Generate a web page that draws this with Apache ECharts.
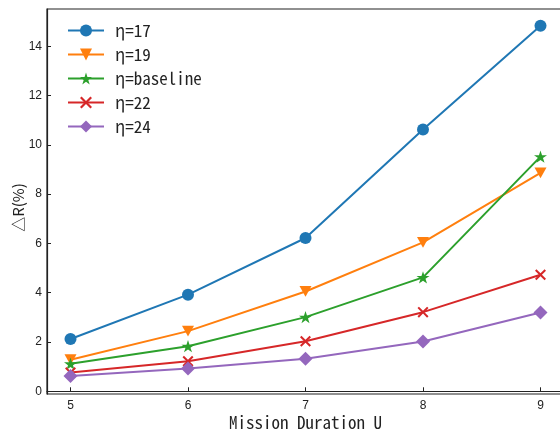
<!DOCTYPE html>
<html>
<head>
<meta charset="utf-8">
<script src="https://cdn.jsdelivr.net/npm/echarts@6/dist/echarts.min.js"></script>
<style>
	html, body { margin: 0; padding: 0; background: #fff; }
	#chart { width: 560px; height: 434px; }
</style>
</head>
<body>
<div id="chart"></div>
<script>
	// mission duration U on x
	const durations = [5, 6, 7, 8, 9]
	const yTicks = [0, 2, 4, 6, 8, 10, 12, 14]

	// ΔR (%) per η setting
	const eta17 = [2.12, 3.92, 6.22, 10.62, 14.83]
	const eta19 = [1.28, 2.44, 4.05, 6.04, 8.86]
	const etaBase = [1.12, 1.83, 3.01, 4.62, 9.52]
	const eta22 = [0.76, 1.22, 2.03, 3.21, 4.73]
	const eta24 = [0.62, 0.92, 1.32, 2.02, 3.2]

	const monoFont = '"Noto Sans Mono CJK SC", "DejaVu Sans Mono", monospace'

	const starPath = 'path://M50,0L61.23,34.55L97.55,34.55L68.17,55.9L79.39,90.45L50,69.1L20.61,90.45L31.83,55.9L2.45,34.55L38.77,34.55Z'
	const crossPath = 'path://M1.3,0L5,3.7L8.7,0L10,1.3L6.3,5L10,8.7L8.7,10L5,6.3L1.3,10L0,8.7L3.7,5L0,1.3Z'
	const triDownPath = 'path://M0,0L10,0L5,9Z'

	function pairs(vals) {
		return durations.map((d, i) => [d, vals[i]])
	}

	function makeSeries(name, vals, color, symbol, size) {
		return {
			name: name,
			type: 'line',
			data: pairs(vals),
			symbol: symbol,
			symbolSize: size,
			symbolKeepAspect: true,
			showAllSymbol: true,
			lineStyle: { color: color, width: 2 },
			itemStyle: { color: color },
			emphasis: { disabled: true },
			animation: false
		}
	}

	const chart = echarts.init(document.getElementById('chart'))
	chart.setOption({
		backgroundColor: '#fff',
		grid: {
			left: 47,
			top: 9,
			right: -4,
			bottom: 40,
			outerBoundsMode: 'none',
			containLabel: false,
			show: true,
			borderColor: '#222',
			borderWidth: 1.2
		},
		legend: {
			orient: 'vertical',
			left: 62,
			top: 17,
			itemWidth: 36,
			itemHeight: 15,
			itemGap: 7,
			textStyle: {
				fontFamily: monoFont,
				fontSize: 17,
				color: '#222',
				padding: [0, 0, 0, 6]
			}
		},
		xAxis: {
			type: 'value',
			min: 4.8,
			max: 9.2,
			name: 'Mission Duration U',
			nameLocation: 'middle',
			nameGap: 20,
			nameMoveOverlap: false,
			nameTextStyle: { fontFamily: monoFont, fontSize: 17, color: '#222' },
			axisLine: { show: true, lineStyle: { color: '#222', width: 1.2 } },
			axisTick: { show: true, inside: true, length: 4, customValues: durations, lineStyle: { color: '#222' } },
			axisLabel: { customValues: durations, margin: 6, fontSize: 12, color: '#222', fontFamily: 'Liberation Sans' },
			splitLine: { show: false }
		},
		yAxis: {
			type: 'value',
			min: -0.11,
			max: 15.51,
			name: '△R(%)',
			nameLocation: 'middle',
			nameGap: 21,
			nameMoveOverlap: false,
			nameRotate: 90,
			nameTextStyle: { fontFamily: '"Noto Sans CJK SC"', fontSize: 15, color: '#222', padding: [0, 12, 0, 0] },
			axisLine: { show: true, lineStyle: { color: '#222', width: 1.2 } },
			axisTick: { show: true, inside: true, length: 4, customValues: yTicks, lineStyle: { color: '#222' } },
			axisLabel: { customValues: yTicks, margin: 5, fontSize: 12, color: '#222', fontFamily: 'Liberation Sans' },
			splitLine: { show: false }
		},
		series: [
			makeSeries('η=17', eta17, '#1f77b4', 'circle', 12),
			makeSeries('η=19', eta19, '#ff7f0e', triDownPath, 12),
			makeSeries('η=baseline', etaBase, '#2ca02c', starPath, 13),
			makeSeries('η=22', eta22, '#d62728', crossPath, 11),
			makeSeries('η=24', eta24, '#9467bd', 'diamond', 14)
		]
	})
</script>
</body>
</html>
